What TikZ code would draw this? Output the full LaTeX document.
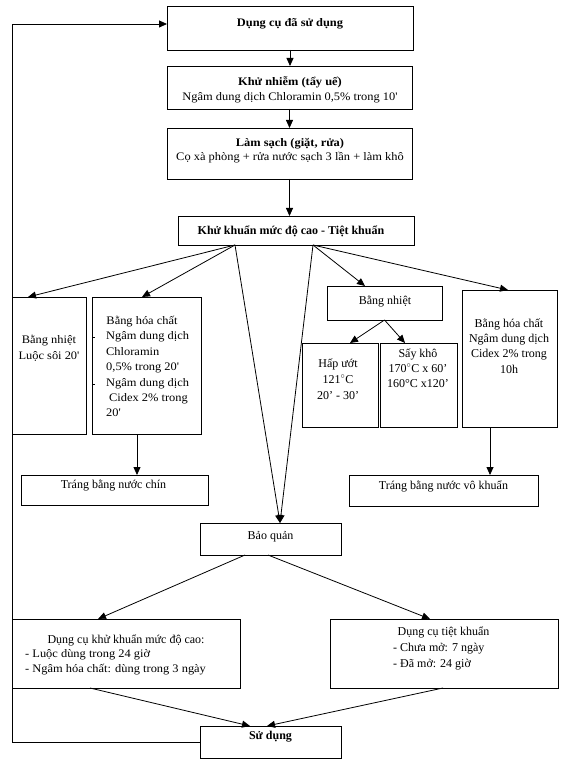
\documentclass[tikz,border=0pt]{standalone}
\usepackage{fontspec}
\setmainfont{Liberation Serif}
\newfontfamily\cmb[FakeStretch=1.08]{Liberation Serif}
\usetikzlibrary{arrows.meta,calc}
\begin{document}
\begin{tikzpicture}[x=1pt,y=-1pt,
  box/.style={draw, line width=0.8pt, inner sep=0pt, outer sep=0pt},
  arr/.style={line width=0.8pt, -{Triangle[length=8pt,width=7pt]}},
  ln/.style={line width=0.8pt},
  tx/.style={inner sep=0pt, align=center, font=\fontsize{12}{15}\selectfont},
  tc/.style={inner sep=0pt, align=center, font=\cmb\fontsize{11.5}{15}\selectfont}]
\useasboundingbox (0,0) rectangle (576,767);
% boxes
\node[box, minimum width=246pt, minimum height=44pt] (b1) at (290,28) {};
\node[box, minimum width=245pt, minimum height=43pt] (b2) at (289.5,87.5) {};
\node[box, minimum width=245pt, minimum height=51pt] (b3) at (289.5,153.5) {};
\node[box, minimum width=236pt, minimum height=29pt] (b4) at (296,230.5) {};
\node[box, minimum width=74pt, minimum height=137pt] (n1) at (49,365.5) {};
\node[box, minimum width=109pt, minimum height=137pt] (n2) at (146.5,365.5) {};
\node[box, minimum width=115pt, minimum height=34pt] (n3) at (384.5,303) {};
\node[box, minimum width=76pt, minimum height=84pt] (n4) at (340,385) {};
\node[box, minimum width=77pt, minimum height=84pt] (n5) at (418.5,385) {};
\node[box, minimum width=95pt, minimum height=137pt] (n6) at (509.5,358.5) {};
\node[box, minimum width=187pt, minimum height=30pt] (n7) at (114.5,490) {};
\node[box, minimum width=189pt, minimum height=31pt] (n8) at (443.5,490.5) {};
\node[box, minimum width=141pt, minimum height=32pt] (bq) at (270.5,539) {};
\node[box, minimum width=228pt, minimum height=69pt] (L) at (126,653.5) {};
\node[box, minimum width=228pt, minimum height=69pt] (R) at (444,653.5) {};
\node[box, minimum width=141pt, minimum height=32pt] (sd) at (270.5,742) {};
% texts
\node[tc] (t1) at (290,24) {\bfseries Dụng cụ đã sử dụng};
\node[tc] (t2) at (290,89.5) {\bfseries Khử nhiễm (tẩy uế)\\Ngâm dung dịch Chloramin 0,5\% trong 10'};
\node[tc, font=\cmb\fontsize{11.5}{13.5}\selectfont] (t3) at (290,150.5) {\bfseries Làm sạch (giặt, rửa)\\Cọ xà phòng + rửa nước sạch 3 lần + làm khô};
\node[tx] (t4) at (291,231) {\bfseries Khử khuẩn mức độ cao - Tiệt khuẩn};
\node[tc, font=\cmb\fontsize{11.5}{16}\selectfont] (t5) at (49,348) {Bằng nhiệt\\Luộc sôi 20'};
\node[tc] (t6) at (142,322) {Bằng hóa chất};
\node[tc, align=left, anchor=west, font=\cmb\fontsize{11.5}{15.4}\selectfont] (t7) at (106,374.5) {Ngâm dung dịch\\Chloramin\\0,5\% trong 20'\\Ngâm dung dịch\\\hspace{3pt}Cidex 2\% trong\\20'};
\node[tx] (t8) at (385,301) {Bằng nhiệt};
\node[tx, font=\fontsize{12}{16}\selectfont] (t9) at (338,379) {Hấp ướt\\121$^{\circ}$C\\20' - 30'};
\node[tx, font=\fontsize{12}{15}\selectfont] (t10) at (418,368) {Sấy khô\\170$^{\circ}$C x 60'\\160°C x120'};
\node[tx, font=\fontsize{12}{15.3}\selectfont] (t11) at (509,346) {Bằng hóa chất\\Ngâm dung dịch\\Cidex 2\% trong\\10h};
\node[tx] (t12) at (113.5,485) {Tráng bằng nước chín};
\node[tx] (t13) at (443.5,486) {Tráng bằng nước vô khuẩn};
\node[tx] (t14) at (270.5,537) {Bảo quản};
\node[tx] (t15) at (126,640) {Dụng cụ khử khuẩn mức độ cao:};
\node[tc, align=left, anchor=west, font=\cmb\fontsize{11.5}{14.5}\selectfont] (t16) at (25,662) {- Luộc dùng trong 24 giờ\\- Ngâm hóa chất: dùng trong 3 ngày};
\node[tx] (t17) at (443.5,632) {Dụng cụ tiệt khuẩn};
\node[tx, align=left, anchor=west, font=\fontsize{12}{16}\selectfont] (t18) at (393,657) {- Chưa mở: 7 ngày\\- Đã mở: 24 giờ};
\node[tx] (t19) at (270.5,737) {\bfseries Sử dụng};
% bullet remnants
\draw[ln] (n2.west |- 0,337) -- ++(2.5,0);
\draw[ln] (n2.west |- 0,384) -- ++(2.5,0);
% coordinates
\coordinate (p1) at ($(b4.south west)+(57,0)$);
\coordinate (p2) at ($(b4.south west)+(135,0)$);
\coordinate (q1) at ($(bq.south west)+(45,0)$);
\coordinate (q2) at ($(bq.south west)+(68,0)$);
\coordinate (c1) at (12,742);
\coordinate (c2) at (12,24);
% connectors
\draw[arr] (b1.south) -- (b1.south |- b2.north);
\draw[arr] (b2.south) -- (b2.south |- b3.north);
\draw[arr] (b3.south) -- (b3.south |- b4.north);
\draw[arr] (p1) -- ($(n1.north west)+(16,0)$);
\draw[arr] (p1) -- ($(n2.north west)+(50,0)$);
\draw[arr] (p2) -- ($(n3.north west)+(38,0)$);
\draw[arr] (p2) -- ($(n6.north west)+(46,0)$);
\draw[arr] (n3.south) -- ($(n4.north west)+(48,0)$);
\draw[arr] (n3.south) -- ($(n5.north west)+(25,0)$);
\draw[arr] ($(n2.south west)+(45,0)$) -- ($(n7.north west)+(116,0)$);
\draw[arr] ($(n6.south west)+(28,0)$) -- ($(n8.north west)+(141,0)$);
\draw[arr] (p1) -- ($(bq.north west)+(80,0)$);
\draw[arr] (p2) -- ($(bq.north west)+(80,0)$);
\draw[arr] (q1) -- ($(L.north west)+(86,0)$);
\draw[arr] (q2) -- ($(R.north west)+(100,0)$);
\draw[arr] ($(L.south west)+(78,0)$) -- ($(sd.north west)+(50,0)$);
\draw[arr] ($(R.south west)+(113,0)$) -- ($(sd.north west)+(67,0)$);
\draw[arr] (sd.west) -- (c1) -- (c2) -- (c2 -| b1.west);
\end{tikzpicture}
\end{document}
